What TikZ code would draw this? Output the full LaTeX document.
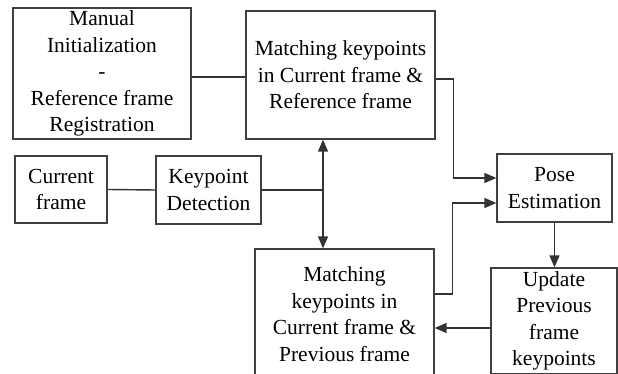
\documentclass[tikz,border=0pt]{standalone}
\usepackage{fontspec}
\setmainfont{Liberation Serif}
\usetikzlibrary{arrows.meta}
\begin{document}
\begin{tikzpicture}[x=1pt,y=-1pt,
  box/.style={draw=black!75, line width=1.3pt, align=center, inner sep=0pt,
    font=\fontsize{21.5}{26.5}\selectfont},
  conn/.style={draw=black!80, line width=1.4pt},
  arr/.style={conn, -{Triangle[length=12pt,width=10pt]}},
  darr/.style={conn, {Triangle[length=12pt,width=10pt]}-{Triangle[length=12pt,width=10pt]}}]
\useasboundingbox (0,0) rectangle (618,374);
\fill[white] (0,0) rectangle (618,374);
\node[box, minimum width=178pt, minimum height=131pt] (init) at (102,73.5)
  {Manual\\Initialization\\-\\Reference frame\\Registration};
\node[box, minimum width=189pt, minimum height=128pt] (mref) at (340.5,75)
  {Matching keypoints\\in Current frame \&\\Reference frame};
\node[box, minimum width=92pt, minimum height=67pt] (cur) at (61,189.5)
  {Current\\frame};
\node[box, minimum width=105pt, minimum height=68pt] (kpd) at (208.5,190)
  {Keypoint\\Detection};
\node[box, minimum width=115pt, minimum height=68pt] (pose) at (554.5,188)
  {Pose\\Estimation};
\node[box, minimum width=126pt, minimum height=106pt] (upd) at (554,321)
  {Update\\Previous\\frame\\keypoints};
\node[box, minimum width=179pt, minimum height=130pt] (mprev) at (344.5,314)
  {Matching\\keypoints in\\Current frame \&\\Previous frame};
\coordinate (j) at (323,190);
\draw[conn] ([yshift=-3.5pt]init.east) -- ([yshift=-3.5pt]init.east -| mref.west);
\draw[conn] (cur.east) -- (kpd.west);
\draw[conn] (kpd.east) -- (j);
\draw[darr] (mref.south -| j) -- (mprev.north -| j);
\draw[arr] ([yshift=-4pt]mref.east) -- ++(18,0) |- ([yshift=10pt]pose.west);
\draw[arr] ([yshift=20pt]mprev.east) -- ++(18,0) |- ([yshift=-15pt]pose.west);
\draw[arr] (pose.south) -- (pose.south |- upd.north);
\draw[arr] ([yshift=-7pt]upd.west) -- ([yshift=-7pt]upd.west -| mprev.east);
\end{tikzpicture}
\end{document}
